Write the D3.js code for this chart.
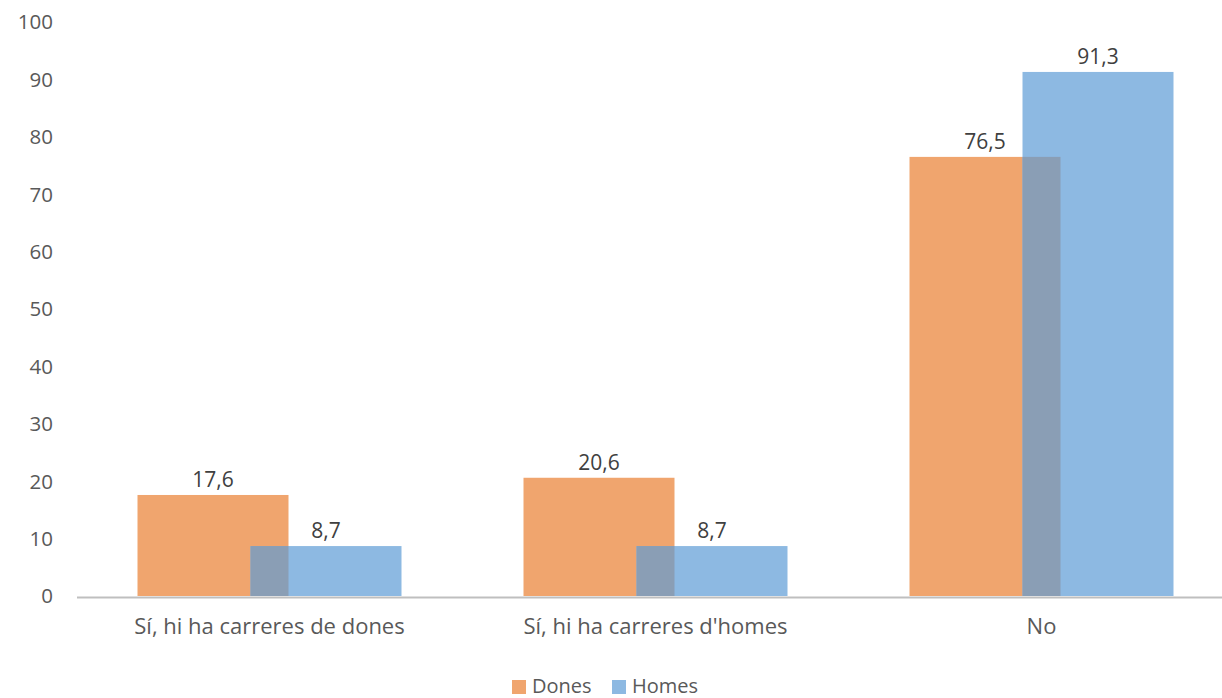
<!DOCTYPE html>
<html>
<head>
<meta charset="utf-8">
<script src="https://cdn.jsdelivr.net/npm/d3@7"></script>
<style>
  body { margin: 0; background: #fff; }
  text { font-family: "Open Sans", sans-serif; }
</style>
</head>
<body>
<script>
let w = 1222;
let h = 698;

// data
const categories = ["Sí, hi ha carreres de dones", "Sí, hi ha carreres d'homes", "No"];
const dones = [17.6, 20.6, 76.5];
const homes = [8.7, 8.7, 91.3];
const yTicks = [0, 10, 20, 30, 40, 50, 60, 70, 80, 90, 100];

const colDones = "#F0A56E";
const colHomes = "#8DB9E2";
const colOverlap = "#8A9EB5";

let svg = d3.select("body")
    .append("svg")
    .attr("width", w)
    .attr("height", h);

let x = d3.scaleBand()
    .domain(categories)
    .range([76.5, 1234.5]);

let y = d3.scaleLinear()
    .domain([0, 100])
    .range([596, 22]);

let barW = 151;
let offset = 56.5; // distance of each bar centre from band centre

let fmt = v => d3.format(".1f")(v).replace(".", ",");

// y tick labels
svg.append("g")
    .selectAll("text")
    .data(yTicks)
    .enter()
    .append("text")
    .attr("x", 53)
    .attr("y", d => y(d))
    .attr("dy", "0.36em")
    .attr("text-anchor", "end")
    .attr("font-size", 20.5)
    .attr("fill", "#595959")
    .text(d => d);

let cx = c => x(c) + x.bandwidth() / 2;

// Dones bars
svg.append("g")
    .selectAll("rect")
    .data(categories)
    .enter()
    .append("rect")
    .attr("x", c => cx(c) - offset - barW / 2)
    .attr("y", (c, i) => y(dones[i]))
    .attr("width", barW)
    .attr("height", (c, i) => y(0) - y(dones[i]))
    .attr("fill", colDones);

// Homes bars
svg.append("g")
    .selectAll("rect")
    .data(categories)
    .enter()
    .append("rect")
    .attr("x", c => cx(c) + offset - barW / 2)
    .attr("y", (c, i) => y(homes[i]))
    .attr("width", barW)
    .attr("height", (c, i) => y(0) - y(homes[i]))
    .attr("fill", colHomes);

// overlap region
svg.append("g")
    .selectAll("rect")
    .data(categories)
    .enter()
    .append("rect")
    .attr("x", c => cx(c) + offset - barW / 2)
    .attr("y", (c, i) => y(Math.min(dones[i], homes[i])))
    .attr("width", barW - 2 * offset)
    .attr("height", (c, i) => y(0) - y(Math.min(dones[i], homes[i])))
    .attr("fill", colOverlap);

// value labels
svg.append("g")
    .selectAll("text")
    .data(categories)
    .enter()
    .append("text")
    .attr("x", c => cx(c) - offset)
    .attr("y", (c, i) => y(dones[i]) - 8)
    .attr("text-anchor", "middle")
    .attr("font-size", 21)
    .attr("fill", "#404040")
    .text((c, i) => fmt(dones[i]));

svg.append("g")
    .selectAll("text")
    .data(categories)
    .enter()
    .append("text")
    .attr("x", c => cx(c) + offset)
    .attr("y", (c, i) => y(homes[i]) - 8)
    .attr("text-anchor", "middle")
    .attr("font-size", 21)
    .attr("fill", "#404040")
    .text((c, i) => fmt(homes[i]));

// x axis
let xAxis = svg.append("g")
    .attr("transform", `translate(0,${y(0) + 1})`)
    .call(d3.axisBottom(x).tickSize(0).tickPadding(21));
xAxis.select(".domain").attr("stroke", "#BFBFBF").attr("stroke-width", 2);
xAxis.selectAll("text")
    .attr("font-size", 22)
    .attr("font-family", "'Open Sans', sans-serif")
    .attr("fill", "#595959");

// legend
let legend = [["Dones", colDones, 512], ["Homes", colHomes, 612]];
let lg = svg.append("g");
lg.selectAll("rect")
    .data(legend)
    .enter()
    .append("rect")
    .attr("x", d => d[2])
    .attr("y", 680)
    .attr("width", 14)
    .attr("height", 14)
    .attr("fill", d => d[1]);
lg.selectAll("text")
    .data(legend)
    .enter()
    .append("text")
    .attr("x", d => d[2] + 20)
    .attr("y", 693)
    .attr("font-size", 20)
    .attr("fill", "#595959")
    .text(d => d[0]);
</script>
</body>
</html>
